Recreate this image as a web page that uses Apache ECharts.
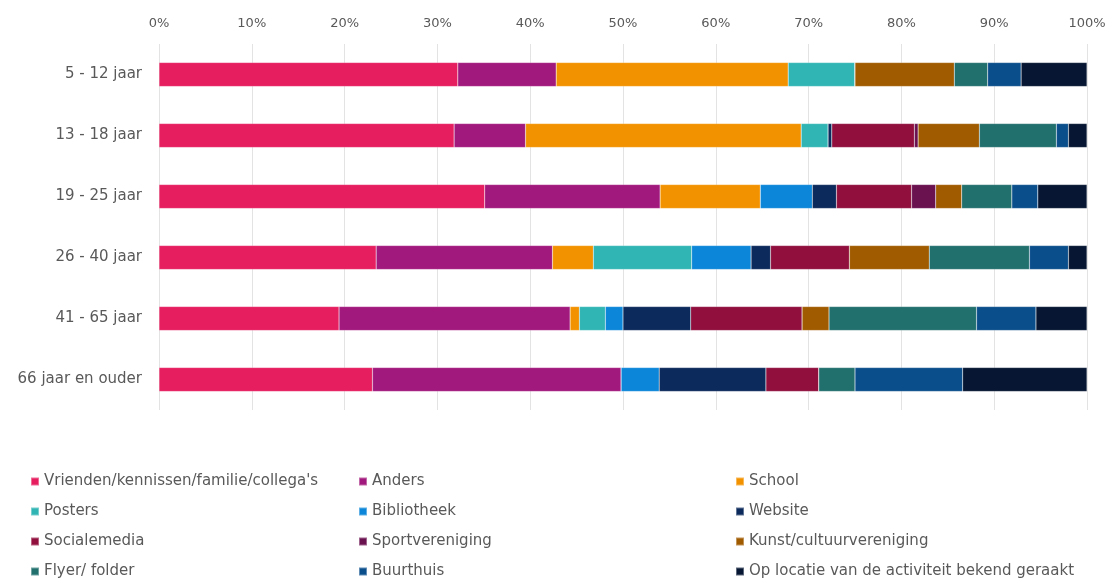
<!DOCTYPE html>
<html>
<head>
<meta charset="utf-8">
<title>Hoe bekend geraakt met de activiteit</title>
<script src="https://cdn.jsdelivr.net/npm/echarts@6/dist/echarts.min.js"></script>
<style>
  html, body { margin: 0; padding: 0; background: #ffffff; }
  #chart { width: 1112px; height: 583px; }
</style>
</head>
<body>
<div id="chart"></div>
<script>
// Leeftijdsgroepen (y-as, van boven naar beneden)
const ageGroups = ['5 - 12 jaar', '13 - 18 jaar', '19 - 25 jaar', '26 - 40 jaar', '41 - 65 jaar', '66 jaar en ouder'];

// Aandeel per kanaal (%) per leeftijdsgroep
const vrienden      = [32.2, 31.8, 35.1, 23.4, 19.4, 23.0];
const anders        = [10.6,  7.7, 18.9, 19.0, 24.9, 26.8];
const school        = [25.0, 29.7, 10.8,  4.4,  1.0,  0.0];
const posters       = [ 7.2,  2.9,  0.0, 10.6,  2.8,  0.0];
const bibliotheek   = [ 0.0,  0.0,  5.6,  6.4,  1.9,  4.1];
const website       = [ 0.0,  0.4,  2.6,  2.1,  7.3, 11.5];
const socialemedia  = [ 0.0,  8.9,  8.1,  8.5, 12.0,  5.7];
const sport         = [ 0.0,  0.4,  2.6,  0.0,  0.0,  0.0];
const kunst         = [10.7,  6.6,  2.8,  8.6,  2.9,  0.0];
const flyer         = [ 3.6,  8.3,  5.4, 10.8, 15.9,  3.9];
const buurthuis     = [ 3.6,  1.3,  2.8,  4.2,  6.4, 11.6];
const opLocatie     = [ 7.1,  2.0,  5.3,  2.0,  5.5, 13.4];

// As-ticks
const tickValues = [0, 10, 20, 30, 40, 50, 60, 70, 80, 90, 100];

const seriesDefs = [
  { name: "Vrienden/kennissen/familie/collega's", data: vrienden,     color: '#e61e5f' },
  { name: 'Anders',                               data: anders,       color: '#a2197d' },
  { name: 'School',                               data: school,       color: '#f39200' },
  { name: 'Posters',                              data: posters,      color: '#31b5b4' },
  { name: 'Bibliotheek',                          data: bibliotheek,  color: '#0b86d8' },
  { name: 'Website',                              data: website,      color: '#0c2a5b' },
  { name: 'Socialemedia',                         data: socialemedia, color: '#900f3d' },
  { name: 'Sportvereniging',                      data: sport,        color: '#6a1150' },
  { name: 'Kunst/cultuurvereniging',              data: kunst,        color: '#a05b00' },
  { name: 'Flyer/ folder',                        data: flyer,        color: '#22706e' },
  { name: 'Buurthuis',                            data: buurthuis,    color: '#0b4e8c' },
  { name: 'Op locatie van de activiteit bekend geraakt', data: opLocatie, color: '#061633' }
];

const textColor = '#595959';
const fontFamily = '"DejaVu Sans", Verdana, sans-serif';

// Legenda in drie kolommen (rij voor rij gevuld)
const legendCols = [[], [], []];
seriesDefs.forEach((s, i) => legendCols[i % 3].push(s.name));
const legendLefts = [30, 358, 735];

const chart = echarts.init(document.getElementById('chart'), null, { renderer: 'canvas' });

chart.setOption({
  backgroundColor: '#ffffff',
  animation: false,
  textStyle: { fontFamily: fontFamily },
  grid: { left: 159, right: 25, top: 44, bottom: 173, containLabel: false },
  xAxis: {
    type: 'value',
    position: 'top',
    min: tickValues[0],
    max: tickValues[tickValues.length - 1],
    interval: tickValues[1] - tickValues[0],
    axisLine: { show: false },
    axisTick: { show: false },
    axisLabel: {
      formatter: '{value}%',
      color: textColor,
      fontSize: 13,
      margin: 14,
      fontFamily: fontFamily
    },
    splitLine: { show: true, lineStyle: { color: '#e3e3e3', width: 1 } }
  },
  yAxis: {
    type: 'category',
    inverse: true,
    data: ageGroups,
    axisLine: { show: false },
    axisTick: { show: false },
    axisLabel: { color: textColor, fontSize: 15, margin: 17, fontFamily: fontFamily },
    splitLine: { show: false }
  },
  legend: legendCols.map((names, c) => ({
    orient: 'vertical',
    left: legendLefts[c],
    top: 473,
    height: 110,
    padding: 0,
    itemWidth: 8,
    itemHeight: 8,
    itemGap: 13,
    icon: 'rect',
    data: names,
    selectedMode: false,
    textStyle: { color: textColor, fontSize: 15, lineHeight: 17, fontFamily: fontFamily }
  })),
  series: seriesDefs.map(s => ({
    name: s.name,
    type: 'bar',
    stack: 'totaal',
    barWidth: 24,
    data: s.data,
    itemStyle: { color: s.color, borderColor: 'rgba(255,255,255,0.35)', borderWidth: 0.5 },
    emphasis: { disabled: true }
  }))
});
</script>
</body>
</html>
